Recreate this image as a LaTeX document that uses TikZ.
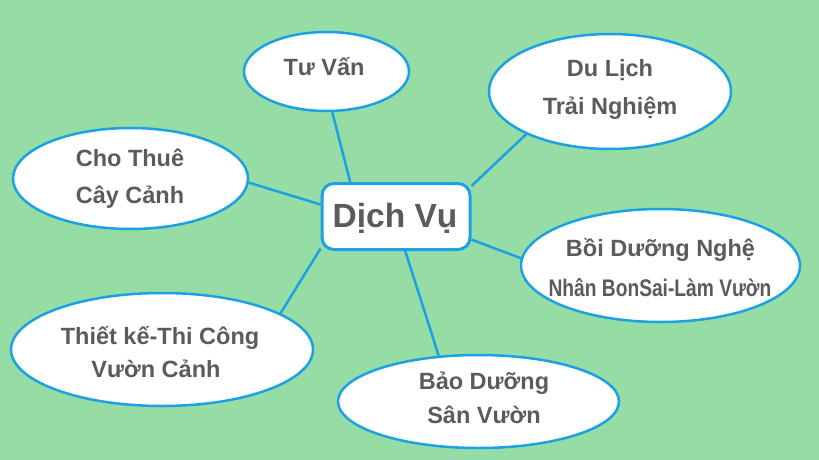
\documentclass[tikz,border=0pt]{standalone}
\usepackage{fontspec}
\setmainfont{Liberation Sans}
\usetikzlibrary{shapes.geometric}
\pgfdeclarelayer{back}
\pgfdeclarelayer{links}
\pgfsetlayers{back,links,main}
\definecolor{bgG}{HTML}{95DDA5}
\definecolor{lineB}{HTML}{1BA1E4}
\definecolor{txtG}{HTML}{5D595D}
\tikzset{
  bubble/.style={ellipse, draw=lineB, fill=white, line width=2.5pt, inner sep=0pt},
  hub/.style={rectangle, rounded corners=12pt, draw=lineB, fill=white, line width=3pt, inner sep=0pt, minimum width=148pt, minimum height=66pt},
  lbl/.style={anchor=base, inner sep=0pt, text=txtG, font=\bfseries\fontsize{23.5}{26}\selectfont},
  biglbl/.style={anchor=base, inner sep=0pt, text=txtG, font=\bfseries\fontsize{33.5}{38}\selectfont},
  link/.style={draw=lineB, line width=2.5pt}
}
\begin{document}
\begin{tikzpicture}[x=1pt,y=-1pt]
\begin{pgfonlayer}{back}
\fill[bgG] (0,0) rectangle (819,460);
\end{pgfonlayer}
\useasboundingbox (0,0) rectangle (819,460);

% hub
\node[hub] (c) at (396,216.5) {};
\node[biglbl] (ct) at (395,227) {Dịch Vụ};

% bubbles
\node[bubble, minimum width=165pt, minimum height=79pt] (tv) at (326.5,71.5) {};
\node[lbl] (tvt) at (324,76) {Tư Vấn};

\node[bubble, minimum width=242pt, minimum height=115pt] (dl) at (610,91.5) {};
\node[lbl] (dlt1) at (610,77) {Du Lịch};
\node[lbl] (dlt2) at (610,114) {Trải Nghiệm};

\node[bubble, minimum width=235pt, minimum height=101pt] (ct2) at (130.5,178.5) {};
\node[lbl] (ctt1) at (130,166) {Cho Thuê};
\node[lbl] (ctt2) at (130,203) {Cây Cảnh};

\node[bubble, minimum width=279pt, minimum height=113pt] (bd) at (660.5,265.5) {};
\node[lbl] (bdt1) at (660.5,256) {Bồi Dưỡng Nghệ};
\node[lbl, font=\bfseries\fontsize{24}{26}\selectfont] (bdt2) at (660,296) {\scalebox{0.8}[1]{Nhân BonSai-Làm Vườn}};

\node[bubble, minimum width=302pt, minimum height=113pt] (tk) at (162,349.5) {};
\node[lbl] (tkt1) at (160,344) {Thiết kế-Thi Công};
\node[lbl] (tkt2) at (156,377) {Vườn Cảnh};

\node[bubble, minimum width=281pt, minimum height=93pt] (bs) at (478.5,401.5) {};
\node[lbl] (bst1) at (484,389) {Bảo Dưỡng};
\node[lbl] (bst2) at (484,423) {Sân Vườn};

% links
\begin{pgfonlayer}{links}
\draw[link] (tv.-82) -- (c.143);
\draw[link] (dl.207.7) -- (c.22.8);
\draw[link] (ct2.-2) -- (c.171);
\draw[link] (bd.177) -- (c.-17.6);
\draw[link] (tk.17.9) -- (c.-157.6);
\draw[link] (bs.131.7) -- (c.-75);
\end{pgfonlayer}
\end{tikzpicture}
\end{document}
